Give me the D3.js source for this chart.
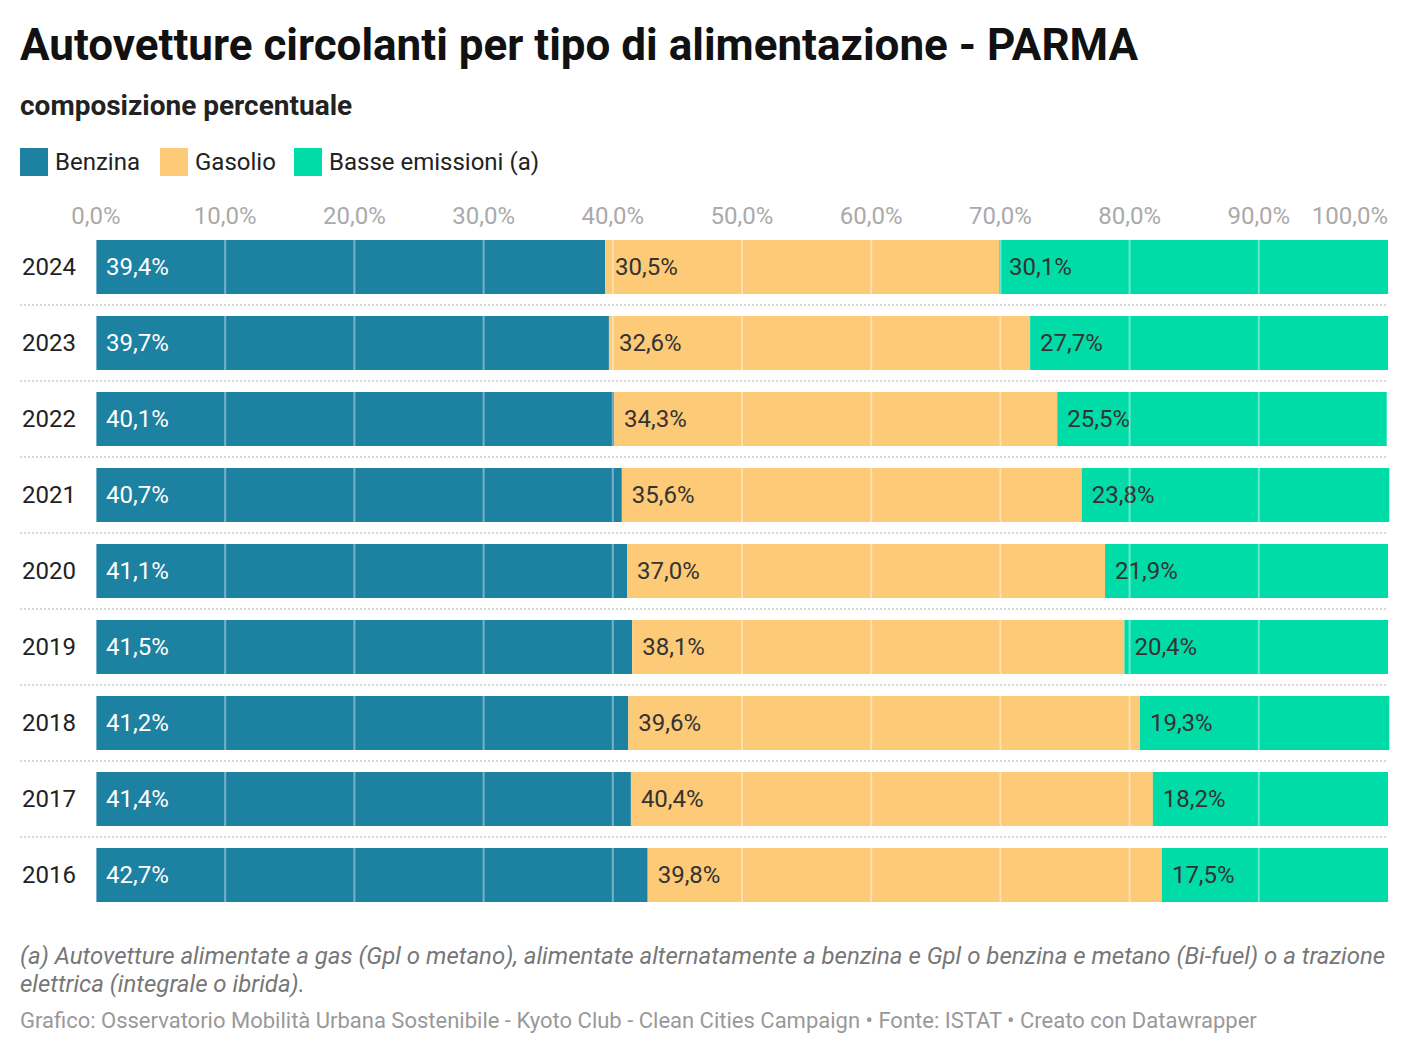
<!DOCTYPE html>
<html>
<head>
<meta charset="utf-8">
<script src="https://cdn.jsdelivr.net/npm/d3@7"></script>
<style>
  body { margin: 0; background: #fff; font-family: Roboto, "Noto Sans", sans-serif; }
  svg { display: block; }
</style>
</head>
<body>
<svg id="chart"></svg>
<script>
// data
const years = ['2024', '2023', '2022', '2021', '2020', '2019', '2018', '2017', '2016'];
const benzina = [39.4, 39.7, 40.1, 40.7, 41.1, 41.5, 41.2, 41.4, 42.7];
const gasolio = [30.5, 32.6, 34.3, 35.6, 37.0, 38.1, 39.6, 40.4, 39.8];
const basse = [30.1, 27.7, 25.5, 23.8, 21.9, 20.4, 19.3, 18.2, 17.5];
const seriesNames = ['Benzina', 'Gasolio', 'Basse emissioni (a)'];
const seriesColors = ['#1d81a2', '#fdca77', '#00dca8'];
const labelColors = ['#ffffff', '#333333', '#333333'];
const ticks = [0, 10, 20, 30, 40, 50, 60, 70, 80, 90, 100];

const width = 1412, height = 1054;
const margins = { left: 96, right: 24, top: 240 };
const rowStep = 76, barH = 54;

const svg = d3.select('#chart').attr('width', width).attr('height', height);

const fmt = v => v.toFixed(1).replace('.', ',') + '%';

const x = d3.scaleLinear().domain([0, 100]).range([margins.left, width - margins.right]);
// band scale: first bar top at 240, last bar bottom at 240 + 8 steps + bar height
const y = d3.scaleBand()
    .domain(years)
    .range([margins.top, margins.top + rowStep * (years.length - 1) + barH])
    .paddingInner((rowStep - barH) / rowStep)
    .paddingOuter(0)
    .align(0);

// title + subtitle
svg.append('text')
    .attr('x', 20).attr('y', 60)
    .attr('font-size', 44).attr('font-weight', 700).attr('fill', '#111')
    .text('Autovetture circolanti per tipo di alimentazione - PARMA');
svg.append('text')
    .attr('x', 20).attr('y', 115)
    .attr('font-size', 28).attr('font-weight', 700).attr('fill', '#222')
    .text('composizione percentuale');

// legend
const legendX = [20, 160, 294];
const legend = svg.append('g');
seriesNames.forEach((name, i) => {
    legend.append('rect')
        .attr('x', legendX[i]).attr('y', 148)
        .attr('width', 28).attr('height', 28)
        .attr('fill', seriesColors[i]);
    legend.append('text')
        .attr('x', legendX[i] + 35).attr('y', 170)
        .attr('font-size', 24).attr('fill', '#222')
        .text(name);
});

// top axis labels
svg.append('g')
    .selectAll('text')
    .data(ticks)
    .join('text')
    .attr('x', d => x(d))
    .attr('y', 224)
    .attr('text-anchor', d => d === 100 ? 'end' : 'middle')
    .attr('font-size', 24)
    .attr('fill', '#aaaaaa')
    .text(fmt);

// stacked data
const stackData = years.map((yr, i) => ({ year: yr, vals: [benzina[i], gasolio[i], basse[i]] }));

// row separators
svg.append('g')
    .selectAll('line')
    .data(years.slice(0, -1))
    .join('line')
    .attr('x1', 20).attr('x2', x(100))
    .attr('y1', d => y(d) + barH + (rowStep - barH) / 2)
    .attr('y2', d => y(d) + barH + (rowStep - barH) / 2)
    .attr('stroke', '#d8d8d8')
    .attr('stroke-width', 2)
    .attr('stroke-dasharray', '2,2');

// year labels
svg.append('g')
    .selectAll('text')
    .data(years)
    .join('text')
    .attr('x', 22)
    .attr('y', d => y(d) + barH / 2 + 8)
    .attr('font-size', 24)
    .attr('fill', '#222')
    .text(d => d);

// bars
const rows = svg.append('g')
    .selectAll('g')
    .data(stackData)
    .join('g')
    .attr('transform', d => `translate(0, ${y(d.year)})`);

rows.each(function (d) {
    const g = d3.select(this);
    let acc = 0;
    d.vals.forEach((v, i) => {
        g.append('rect')
            .attr('x', x(acc))
            .attr('width', x(acc + v) - x(acc))
            .attr('y', 0)
            .attr('height', barH)
            .attr('fill', seriesColors[i]);
        acc += v;
    });
});

// gridlines drawn over bars
svg.append('g')
    .selectAll('g')
    .data(stackData)
    .join('g')
    .attr('transform', d => `translate(0, ${y(d.year)})`)
    .selectAll('line')
    .data(ticks.slice(0, -1))
    .join('line')
    .attr('x1', d => x(d)).attr('x2', d => x(d))
    .attr('y1', 0).attr('y2', barH)
    .attr('stroke', '#ffffff')
    .attr('stroke-opacity', 0.4)
    .attr('stroke-width', 2);

// value labels
rows.each(function (d) {
    const g = d3.select(this);
    let acc = 0;
    d.vals.forEach((v, i) => {
        g.append('text')
            .attr('x', x(acc) + 10)
            .attr('y', barH / 2 + 8)
            .attr('font-size', 24)
            .attr('fill', labelColors[i])
            .text(fmt(v));
        acc += v;
    });
});

// notes
const note = svg.append('text')
    .attr('font-size', 24).attr('font-style', 'italic').attr('fill', '#777');
note.append('tspan').attr('x', 20).attr('y', 964)
    .text('(a) Autovetture alimentate a gas (Gpl o metano), alimentate alternatamente a benzina e Gpl o benzina e metano (Bi-fuel) o a trazione');
note.append('tspan').attr('x', 20).attr('y', 992)
    .text('elettrica (integrale o ibrida).');

svg.append('text')
    .attr('x', 20).attr('y', 1028)
    .attr('font-size', 22).attr('fill', '#999')
    .text('Grafico: Osservatorio Mobilità Urbana Sostenibile - Kyoto Club - Clean Cities Campaign • Fonte: ISTAT • Creato con Datawrapper');
</script>
</body>
</html>
